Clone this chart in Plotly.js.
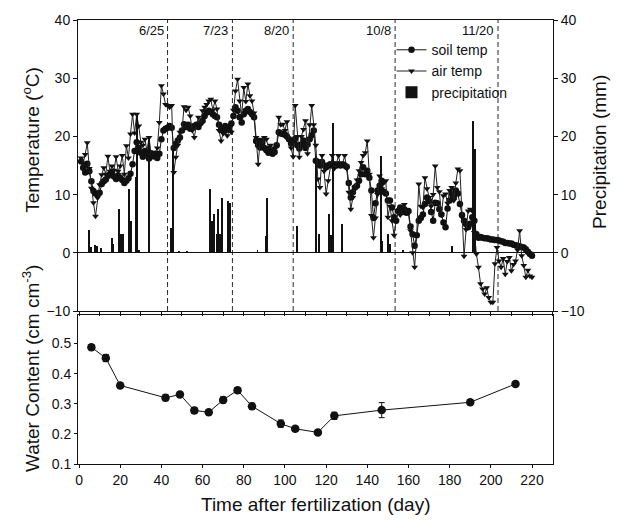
<!DOCTYPE html>
<html>
<head>
<meta charset="utf-8">
<script src="https://cdn.plot.ly/plotly-3.0.1.min.js"></script>
<style>html,body{margin:0;padding:0;background:#fff;}#chart{width:617px;height:524px;}</style>
</head>
<body>
<div id="chart"></div>
<script>
// Daily temperature record (day after fertilization)
const days = [
 1,2,3,4,5,6,7,8,9,10,11,12,13,14,15,16,17,18,19,20,
 21,22,23,24,25,26,27,28,29,30,31,32,33,34,35,36,37,38,39,40,
 41,42,43,44,45,46,47,48,49,50,51,52,53,54,55,56,57,58,59,60,
 61,62,63,64,65,66,67,68,69,70,71,72,73,74,75,76,77,78,79,80,
 81,82,83,84,85,86,87,88,89,90,91,92,93,94,95,96,97,98,99,100,
 101,102,103,104,105,106,107,108,109,110,111,112,113,114,115,116,117,118,119,120,
 121,122,123,124,125,126,127,128,129,130,131,132,133,134,135,136,137,138,139,140,
 141,142,143,144,145,146,147,148,149,150,151,152,153,154,155,156,157,158,159,160,
 161,162,163,164,165,166,167,168,169,170,171,172,173,174,175,176,177,178,179,180,
 181,182,183,184,185,186,187,188,189,190,191,192,193,194,195,196,197,198,199,200,
 201,202,203,204,205,206,207,208,209,210,211,212,213,214,215,216,217,218,219,220
];
const soilTemp = [
 15.7,14.6,13.8,15.3,14.0,12.3,10.6,10.2,10.0,10.3,
 11.8,12.3,12.6,13.2,13.5,13.9,13.1,12.7,13.3,12.9,
 12.5,12.0,12.4,12.8,13.6,15.2,17.5,19.0,18.0,17.2,
 16.5,17.5,16.8,16.2,17.1,16.6,17.0,16.3,17.0,19.5,
 21.0,21.3,21.5,21.8,21.5,18.0,18.7,19.3,19.8,21.0,
 22.1,21.6,22.0,21.3,21.5,21.8,22.0,21.6,22.3,22.7,
 23.5,24.1,24.4,24.2,23.8,23.5,23.3,22.0,21.2,21.0,
 21.8,21.2,21.6,22.2,23.5,25.0,24.4,23.3,22.4,23.8,
 24.4,24.7,24.2,23.8,23.3,19.2,18.5,18.1,19.0,18.0,
 17.6,17.2,17.5,17.0,17.3,18.5,20.7,20.5,20.4,20.3,
 20.0,19.5,18.8,19.2,19.6,18.5,17.9,18.6,19.3,18.0,
 18.6,19.5,20.2,21.0,15.8,15.6,15.0,15.6,15.0,14.7,
 15.0,15.2,15.0,15.2,15.0,15.2,15.0,15.2,15.0,14.8,
 12.0,9.5,10.4,11.2,11.5,12.4,13.5,14.7,13.5,14.1,
 12.9,10.7,6.0,8.5,10.7,11.5,12.4,10.5,10.2,9.0,
 9.0,7.8,6.1,5.5,7.2,7.8,7.0,7.5,6.9,7.2,
 4.5,3.2,1.2,3.0,5.5,6.0,6.6,8.4,9.5,8.9,
 7.0,5.5,8.6,8.5,7.5,6.6,5.2,4.4,7.6,9.0,
 10.1,9.5,10.7,10.2,8.4,6.5,5.5,4.9,4.4,5.0,
 6.1,5.5,3.2,2.6,2.7,2.6,2.5,2.5,2.4,2.3,
 2.3,2.2,2.2,2.1,2.0,1.9,1.7,1.7,1.6,1.6,
 1.4,1.3,1.2,1.1,1.0,0.9,0.6,0.2,-0.2,-0.5
];
const airTemp = [
 16.3,15.4,16.9,18.9,14.5,11.1,8.6,6.3,9.4,11.7,
 13.4,14.6,13.5,16.6,14.0,14.9,14.2,16.5,14.0,14.9,
 16.7,13.5,18.4,16.3,20.4,23.8,20.6,23.8,21.8,19.0,
 18.5,19.5,17.5,19.8,17.0,16.5,17.2,18.0,22.4,28.7,
 27.3,25.5,25.3,25.0,25.3,13.8,16.4,18.5,20.7,21.0,
 25.1,24.5,25.0,23.5,21.0,19.8,22.0,23.3,22.0,24.4,
 25.0,25.5,26.1,26.4,24.5,26.1,24.7,21.0,19.2,20.5,
 20.7,20.1,21.0,20.7,24.5,27.8,29.8,26.1,23.5,28.4,
 26.0,29.0,27.0,26.1,24.0,19.8,15.2,19.5,18.5,19.8,
 19.5,18.1,18.5,17.8,18.0,18.2,23.3,22.0,22.1,21.0,
 22.5,19.3,18.0,16.5,25.3,20.0,16.4,20.0,21.2,22.7,
 17.0,22.0,25.3,22.0,18.5,12.7,11.2,16.7,14.0,10.1,
 12.4,15.0,16.7,14.5,15.3,16.7,15.0,15.3,16.7,14.5,
 10.4,7.5,9.5,11.2,12.5,14.1,15.5,16.7,17.2,19.2,
 13.5,6.4,2.6,6.0,10.0,13.2,11.0,12.0,12.4,6.1,
 8.0,5.5,3.0,5.5,7.2,6.5,7.5,8.3,7.0,6.8,
 3.8,0.0,-2.5,3.0,11.8,8.0,7.8,12.9,11.0,9.5,
 8.0,10.0,14.9,11.2,10.5,6.6,9.8,10.1,8.5,10.7,
 11.2,9.0,12.0,14.4,14.1,6.1,-0.6,4.0,7.2,7.5,
 7.2,3.5,-0.2,-2.5,-5.3,-6.2,-7.1,-6.0,-7.7,-8.5,
 -8.5,-1.9,0.9,-1.4,-2.5,-1.0,-3.7,-1.5,-0.8,-3.1,
 -2.0,-1.4,0.5,3.8,-0.5,-2.2,-4.2,-3.0,-4.0,-4.2
];
// Precipitation events
const precipDays = [5.0,5.8,7.8,8.8,10.5,15.9,16.7,19.6,20.4,21.5,24.4,25.2,27.5,28.3,29.3,33.8,
 44.7,45.5,48.7,52.6,63.6,64.4,65.7,66.8,67.6,68.4,69.6,72.5,73.3,86.7,90.6,91.4,105.7,
 115.0,116.7,121.5,122.3,123.5,127.8,146.5,147.3,150.2,151.0,157.4,181.0,191.4,192.2];
const precipMm = [4.0,1.0,1.3,1.2,0.9,2.6,1.5,7.5,3.2,3.2,11.0,5.5,13.0,23.9,0.5,20.0,
 4.2,18.0,0.3,0.3,11.0,5.5,6.7,3.2,7.5,3.2,9.5,8.9,8.5,0.4,2.9,9.5,4.6,
 15.5,3.2,6.7,3.0,22.3,5.0,16.7,2.0,3.2,1.5,0.4,1.2,22.7,17.8];
// Date markers
const dateLabels = ['6/25','7/23','8/20','10/8','11/20'];
const dateDays = [43, 74.5, 104, 153.5, 203.5];
// Soil water content
const wcDays = [6,13,20,42,49,56,63,70,77,84,98,105,116,124,147,190,212];
const wcValues = [0.488,0.452,0.361,0.320,0.331,0.278,0.272,0.313,0.345,0.292,0.234,0.217,0.205,0.260,0.279,0.305,0.366];
const wcErr = [0.008,0.012,0.008,0.010,0.008,0.010,0.007,0.010,0.008,0.010,0.012,0.008,0.007,0.012,0.025,0.008,0.007];

const traces = [
 {x: days, y: soilTemp, name: 'soil temp', type: 'scatter', mode: 'lines+markers',
  xaxis: 'x', yaxis: 'y', line: {color: '#111', width: 1},
  marker: {symbol: 'circle', size: 6.5, color: '#111'}},
 {x: days, y: airTemp, name: 'air temp', type: 'scatter', mode: 'lines+markers',
  xaxis: 'x', yaxis: 'y', line: {color: '#222', width: 1},
  marker: {symbol: 'triangle-down', size: 6, color: '#111'}},
 {x: precipDays, y: precipMm, name: 'precipitation', type: 'bar', width: 0.9,
  xaxis: 'x', yaxis: 'y3', marker: {color: '#111', line: {width: 0}}},
 {x: wcDays, y: wcValues, type: 'scatter', mode: 'lines+markers', showlegend: false,
  xaxis: 'x2', yaxis: 'y2', line: {color: '#111', width: 1},
  marker: {symbol: 'circle', size: 8.5, color: '#111'},
  error_y: {type: 'data', array: wcErr, visible: true, color: '#111', thickness: 1, width: 3}}
];

const axisFont = {family: 'Liberation Sans, Arial, Helvetica, sans-serif', size: 14, color: '#111'};
const titleFont = {family: 'Liberation Sans, Arial, Helvetica, sans-serif', size: 19, color: '#111'};

const shapes = dateDays.map(d => ({type: 'line', xref: 'x', yref: 'y', x0: d, x1: d, y0: -10, y1: 40,
  line: {color: '#111', width: 0.9, dash: '5px,3px'}}));
const annotations = dateLabels.map((t, i) => ({text: t, x: dateDays[i], y: 40, xref: 'x', yref: 'y',
  xanchor: 'right', yanchor: 'top', xshift: -2, yshift: -1, showarrow: false,
  font: {family: axisFont.family, size: 13, color: '#111'}}));
annotations.push(
 {text: 'Temperature (<sup>o</sup>C)', xref: 'paper', yref: 'paper', x: -0.099, y: 0.73,
  textangle: -90, showarrow: false, xanchor: 'center', yanchor: 'middle', font: titleFont},
 {text: 'Water Content (cm cm<sup>-3</sup>)', xref: 'paper', yref: 'paper', x: -0.099, y: 0.216,
  textangle: -90, showarrow: false, xanchor: 'center', yanchor: 'middle', font: titleFont},
 {text: 'Precipitation (mm)', xref: 'paper', yref: 'paper', x: 1.099, y: 0.703,
  textangle: -90, showarrow: false, xanchor: 'center', yanchor: 'middle', font: titleFont},
 {text: 'Time after fertilization (day)', xref: 'paper', yref: 'paper', x: 0.5, y: -0.092,
  showarrow: false, xanchor: 'center', yanchor: 'middle', font: titleFont}
);

const layout = {
 width: 617, height: 524,
 margin: {l: 78, r: 64, t: 20, b: 60},
 paper_bgcolor: '#fff', plot_bgcolor: 'rgba(0,0,0,0)',
 font: axisFont,
 showlegend: true,
 legend: {x: 0.66, y: 0.968, xanchor: 'left', yanchor: 'top', bgcolor: 'rgba(0,0,0,0)',
  font: {family: axisFont.family, size: 14, color: '#111'}, tracegroupgap: 0},
 bargap: 0,
 xaxis: {domain: [0, 1], anchor: 'y', range: [-0.5, 230.2], tick0: 0, dtick: 10,
  ticks: 'outside', ticklen: 4, tickcolor: '#111', showticklabels: false,
  showline: true, linecolor: '#111', linewidth: 1, mirror: true, showgrid: false, zeroline: false},
 yaxis: {domain: [0.3446, 1], anchor: 'x', range: [-10, 40], dtick: 10,
  ticks: 'outside', ticklen: 4, tickcolor: '#111', showline: true, linecolor: '#111',
  showgrid: false, zeroline: true, zerolinecolor: '#111', zerolinewidth: 1, tickfont: axisFont},
 yaxis3: {overlaying: 'y', side: 'right', anchor: 'x', range: [-10, 40], dtick: 10,
  ticks: 'outside', ticklen: 4, tickcolor: '#111', showline: true, linecolor: '#111',
  showgrid: false, zeroline: false, tickfont: axisFont},
 xaxis2: {domain: [0, 1], anchor: 'y2', range: [-0.5, 230.2], tick0: 0, dtick: 20,
  ticks: 'outside', ticklen: 3, tickcolor: '#111', showline: true, linecolor: '#111',
  mirror: true, showgrid: false, zeroline: false, tickfont: axisFont},
 yaxis2: {domain: [0, 0.3356], anchor: 'x2', range: [0.1, 0.595], dtick: 0.1, tick0: 0.1,
  tickformat: '.1f', ticks: 'outside', ticklen: 3, tickcolor: '#111', showline: true,
  linecolor: '#111', mirror: true, showgrid: false, zeroline: false, tickfont: axisFont},
 shapes: shapes,
 annotations: annotations
};

Plotly.newPlot('chart', traces, layout, {displayModeBar: false, staticPlot: true});
</script>
</body>
</html>
